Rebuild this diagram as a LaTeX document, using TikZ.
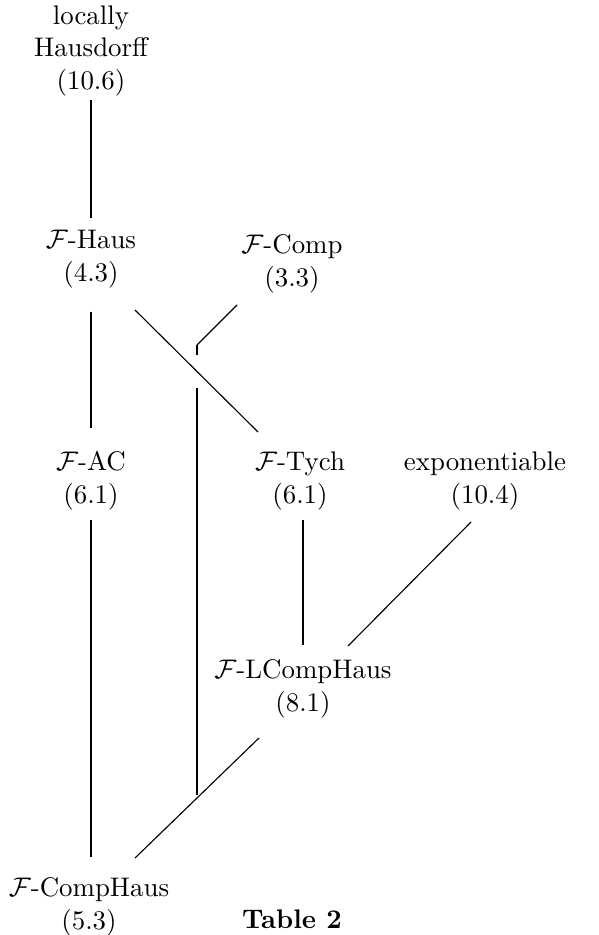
\documentclass[tikz,border=0pt]{standalone}
\usetikzlibrary{calc}
\begin{document}
\begin{tikzpicture}[x=0.372pt,y=-0.372pt,
  lbl/.style={inner sep=0pt,align=center,font=\fontsize{10}{12.2}\selectfont},
  vline/.style={line width=0.75pt},
  dline/.style={line width=0.42pt}]
\useasboundingbox (0,0) rectangle (598,935);
\node[lbl] (lh) at (91,51) {locally\\Hausdorff\\(10.6)};
\node[lbl] (haus) at (91,259) {$\mathcal{F}$-Haus\\(4.3)};
\node[lbl] (comp) at (292,264) {$\mathcal{F}$-Comp\\(3.3)};
\node[lbl] (ac) at (91,481) {$\mathcal{F}$-AC\\(6.1)};
\node[lbl] (tych) at (300,481) {$\mathcal{F}$-Tych\\(6.1)};
\node[lbl] (exp) at (485,481) {exponentiable\\(10.4)};
\node[lbl] (lch) at (303,689) {$\mathcal{F}$-LCompHaus\\(8.1)};
\node[lbl] (ch) at (89,907) {$\mathcal{F}$-CompHaus\\(5.3)};
\node[anchor=base,inner sep=0pt,font=\fontsize{10}{12.2}\selectfont\bfseries] (tab) at (292,928) {Table 2};
% connectors
\draw[vline] ($(lh)+(0,49)$) -- ($(haus)+(0,-41)$);
\draw[vline] ($(haus)+(0,53)$) -- ($(ac)+(0,-53)$);
\draw[vline] ($(ac)+(0,39)$) -- ($(ch)+(2,-50)$);
\draw[dline] ($(haus)+(44,51)$) -- ($(tych)+(-42,-49)$);
\draw[dline] ($(comp)+(-55,41)$) -- ($(comp)+(-95,81)$);
\draw[vline] ($(comp)+(-95,81)$) -- ($(comp)+(-95,91)$);
\draw[vline] ($(comp)+(-95,124)$) -- ($(lch)+(-106,106)$);
\draw[vline] ($(tych)+(3,39)$) -- ($(lch)+(0,-44)$);
\draw[dline] ($(exp)+(-14,41)$) -- ($(lch)+(45,-43)$);
\draw[dline] ($(lch)+(-44,49)$) -- ($(ch)+(46,-49)$);
\end{tikzpicture}
\end{document}
